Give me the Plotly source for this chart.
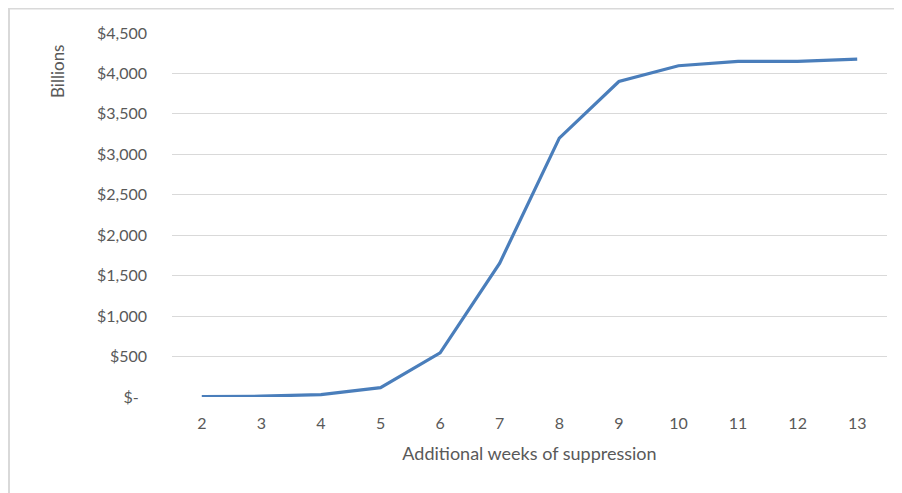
import plotly.graph_objects as go

weeks = [2, 3, 4, 5, 6, 7, 8, 9, 10, 11, 12, 13]
cost_billions = [5, 10, 30, 115, 545, 1655, 3200, 3900, 4095, 4150, 4150, 4178]
y_ticks = [0, 500, 1000, 1500, 2000, 2500, 3000, 3500, 4000, 4500]
y_tick_labels = ["$-\u00a0\u00a0", "$500", "$1,000", "$1,500", "$2,000", "$2,500",
                 "$3,000", "$3,500", "$4,000", "$4,500"]

# the page body adds an 8px margin, so the figure is sized to fill the rest
W, H = 894, 485
L, R, T, B = 164, 15, 25, 96
pw, ph = W - L - R, H - T - B

def px_x(p):
    return (p - L) / pw

def px_y(p):
    return (H - B - p) / ph

fig = go.Figure()
fig.add_trace(go.Scatter(
    x=weeks, y=cost_billions, mode="lines",
    line=dict(color="#4a7ebb", width=3.2),
    hoverinfo="x+y", showlegend=False,
))

font_family = "Lato, Calibri, 'Open Sans', sans-serif"
fig.update_layout(
    width=W, height=H,
    margin=dict(l=L, r=R, t=T, b=B),
    paper_bgcolor="white", plot_bgcolor="white",
    font=dict(family=font_family, color="#595959"),
    xaxis=dict(
        range=[1.5, 13.5], tickmode="array", tickvals=weeks,
        ticktext=[str(w) for w in weeks],
        showgrid=False, zeroline=False, showline=False,
        tickfont=dict(size=16, color="#595959"),
        ticklabelstandoff=15,
        title=dict(text="Additional weeks of suppression",
                   font=dict(size=18, color="#595959"), standoff=16),
    ),
    yaxis=dict(
        range=[0, 4500], tickmode="array", tickvals=y_ticks, ticktext=y_tick_labels,
        showgrid=True, gridcolor="#d9d9d9", gridwidth=1.3,
        zeroline=False, showline=False,
        tickfont=dict(size=16, color="#595959"),
        ticklabelstandoff=24,
    ),
    annotations=[dict(
        text="Billions", textangle=-90, showarrow=False,
        xref="paper", yref="paper", x=px_x(50), y=px_y(64),
        xanchor="center", yanchor="middle",
        font=dict(size=17, color="#595959"),
    )],
    shapes=[
        dict(type="line", xref="paper", yref="paper",
             x0=px_x(1), x1=px_x(1), y0=px_y(0), y1=px_y(H),
             line=dict(color="#d9d9d9", width=2)),
        dict(type="line", xref="paper", yref="paper",
             x0=px_x(0), x1=px_x(W), y0=px_y(0.5), y1=px_y(0.5),
             line=dict(color="#d9d9d9", width=2)),
    ],
)

fig.write_html("out.html", config={"displayModeBar": False})
